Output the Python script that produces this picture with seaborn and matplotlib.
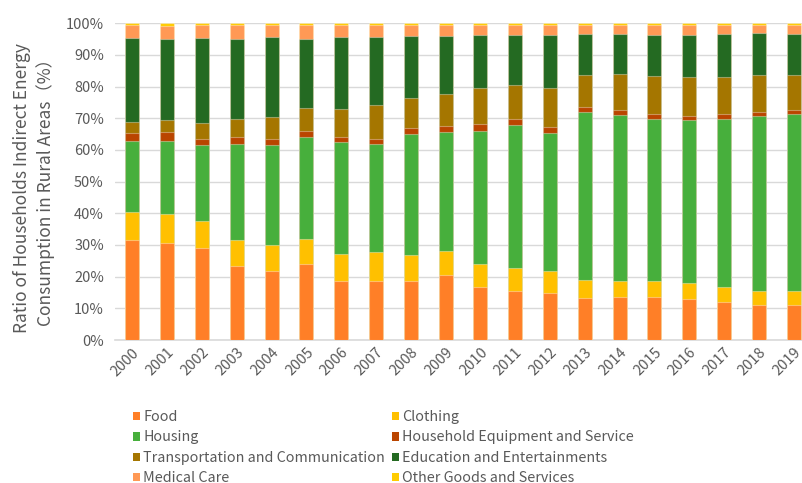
import numpy as np
import pandas as pd
import matplotlib
matplotlib.use("Agg")
import matplotlib.pyplot as plt
import seaborn as sns
from matplotlib.patches import Patch

# --- data (percent share per category) ---
years = [str(y) for y in range(2000, 2020)]
food = [31.6, 30.7, 29.0, 23.5, 21.9, 24.1, 18.5, 18.5, 18.5, 20.4,
        16.6, 15.6, 14.8, 13.4, 13.6, 13.6, 13.1, 12.1, 11.1, 11.1]
clothing = [8.9, 9.1, 8.7, 8.1, 8.1, 7.9, 8.8, 9.2, 8.3, 7.6,
            7.4, 7.2, 7.1, 5.4, 5.0, 5.1, 5.0, 4.6, 4.4, 4.5]
housing = [22.4, 23.1, 23.9, 30.3, 31.6, 32.2, 35.1, 34.1, 38.2, 37.8,
           42.0, 45.1, 43.6, 53.2, 52.4, 51.1, 51.3, 53.1, 55.3, 55.7]
household = [2.4, 2.9, 1.9, 2.1, 1.8, 1.8, 1.6, 1.7, 1.8, 1.9,
             2.1, 1.8, 1.9, 1.7, 1.7, 1.6, 1.4, 1.5, 1.3, 1.3]
transport = [3.6, 3.6, 4.9, 5.7, 6.9, 7.2, 8.9, 10.6, 9.6, 10.0,
             11.4, 10.8, 12.1, 10.1, 11.2, 11.9, 12.1, 11.6, 11.7, 11.2]
education = [26.5, 25.6, 27.0, 25.3, 25.4, 21.8, 22.8, 21.7, 19.7, 18.3,
             16.8, 15.8, 16.8, 12.8, 12.7, 13.1, 13.4, 13.7, 13.0, 12.8]
medical = [4.2, 4.3, 4.2, 4.6, 3.9, 4.6, 3.9, 3.8, 3.5, 3.6,
           3.3, 3.3, 3.3, 3.0, 3.0, 3.2, 3.3, 3.0, 2.8, 3.0]
other = [0.4, 0.7, 0.4, 0.4, 0.4, 0.4, 0.4, 0.4, 0.4, 0.4,
         0.4, 0.4, 0.4, 0.4, 0.4, 0.4, 0.4, 0.4, 0.4, 0.4]

categories = ["Food", "Clothing", "Housing", "Household Equipment and Service",
              "Transportation and Communication", "Education and Entertainments",
              "Medical Care", "Other Goods and Services"]
series = [food, clothing, housing, household, transport, education, medical, other]
colors = ["#FF7F27", "#FFC000", "#47AF3C", "#BA4500",
          "#A57600", "#246A22", "#FF9955", "#FFCC00"]

df = pd.DataFrame({c: s for c, s in zip(categories, series)}, index=years)
# normalise rows to 100 %
df = df.div(df.sum(axis=1), axis=0) * 100
cum = df.cumsum(axis=1)

sns.set_theme(style="white")
plt.rcParams['font.family'] = ['Noto Sans CJK SC', 'DejaVu Sans']
grey = "#595959"

fig = plt.figure(figsize=(8.02, 4.83), dpi=100)
W, H = 802, 483
ax = fig.add_axes([115 / W, (H - 340) / H, (W - 115) / W, (340 - 23.3) / H])

# stacked bars: draw cumulative tops from the highest down
for cat, col in reversed(list(zip(categories, colors))):
    d = pd.DataFrame({"year": years, "value": cum[cat].values})
    sns.barplot(data=d, x="year", y="value", color=col, saturation=1,
                width=0.4, errorbar=None, ax=ax,
                edgecolor=(1, 1, 1, 0.35), linewidth=0.8, zorder=3)

ax.set_ylim(0, 100)
ax.set_xlim(-0.5, -0.5 + (W - 115) / 34.8)
ax.set_yticks(np.arange(0, 101, 10))
ax.set_yticklabels([f"{v}%" for v in range(0, 101, 10)])
ax.yaxis.grid(True, color="#D9D9D9", linewidth=1, zorder=0)
ax.set_axisbelow(True)
for s in ["top", "right", "left"]:
    ax.spines[s].set_visible(False)
ax.spines["bottom"].set_color("#D9D9D9")
ax.spines["bottom"].set_linewidth(1.2)
ax.tick_params(axis="both", length=0, labelsize=10.5, labelcolor=grey)
ax.tick_params(axis="y", pad=8)
plt.setp(ax.get_xticklabels(), rotation=45, ha="right", rotation_mode="anchor")
ax.tick_params(axis="x", pad=4)
ax.set_xlabel("")
ax.set_ylabel("Ratio of Households Indirect Energy\nConsumption in Rural Areas（%）",
              fontsize=12.5, color=grey, linespacing=1.35)
ax.yaxis.set_label_coords(-0.087, 0.48)

# legend: two columns, filled row by row
left = [0, 2, 4, 6]
right = [1, 3, 5, 7]
for idx, x0 in [(left, 133 / W), (right, 392 / W)]:
    handles = [Patch(facecolor=colors[i], edgecolor="none") for i in idx]
    labels = [categories[i] for i in idx]
    fig.legend(handles, labels, loc="upper left", bbox_to_anchor=(x0, (H - 410) / H),
               frameon=False, labelcolor=grey, fontsize=10.3, handlelength=0.52,
               handleheight=0.52, handletextpad=0.2, labelspacing=0.45,
               borderpad=0, borderaxespad=0)

fig.savefig("out.png", dpi=100)
